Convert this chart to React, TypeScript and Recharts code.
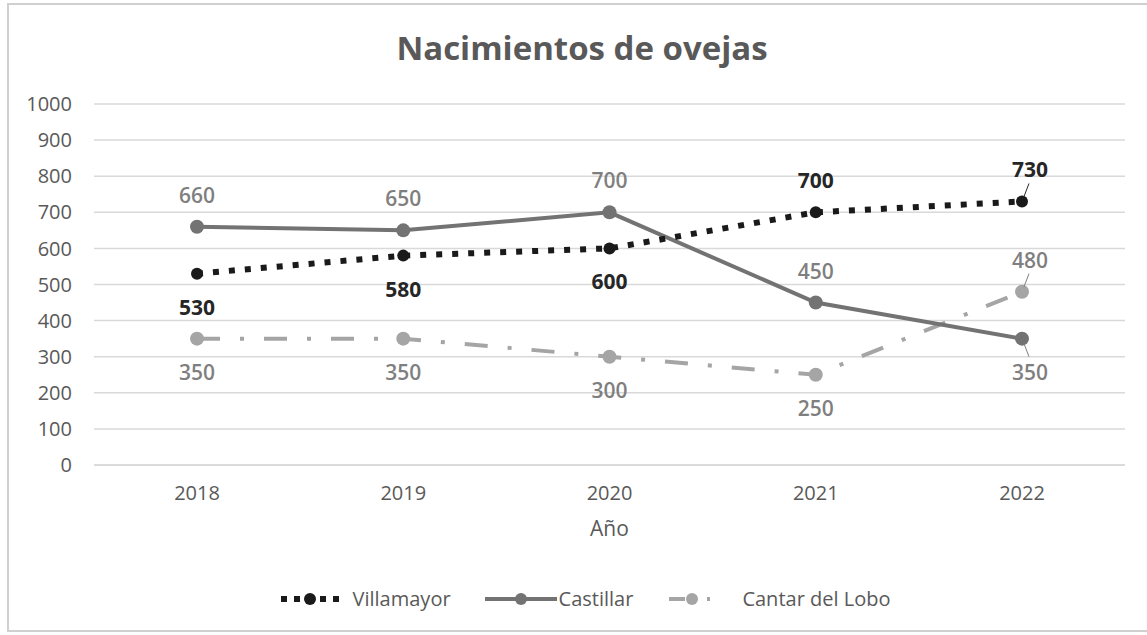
import { LineChart, Line, XAxis, YAxis, CartesianGrid, Legend, LabelList } from 'recharts';

const years = ['2018', '2019', '2020', '2021', '2022'];
const villamayor = [530, 580, 600, 700, 730];
const castillar = [660, 650, 700, 450, 350];
const cantarDelLobo = [350, 350, 300, 250, 480];
const yTicks = [0, 100, 200, 300, 400, 500, 600, 700, 800, 900, 1000];

// where each value label sits relative to its point
const villamayorLabelSide = ['bottom', 'bottom', 'bottom', 'top', 'top'];
const castillarLabelSide = ['top', 'top', 'top', 'top', 'bottom'];
const cantarLabelSide = ['bottom', 'bottom', 'bottom', 'bottom', 'top'];

const FONT = '"Open Sans", sans-serif';
const TEXT_GRAY = '#595959';

const chartData = years.map((year, i) => ({
  year,
  villamayor: villamayor[i],
  castillar: castillar[i],
  cantar: cantarDelLobo[i],
}));

const makeLabel = (sides: string[], color: string, weight: number) => (props: any) => {
  const { x, y, value, index } = props;
  const above = sides[index] === 'top';
  const last = index === sides.length - 1;
  const lx = last ? x + 8 : x;
  const ly = above ? y - 32 : y + 33;
  return (
    <g>
      {last && (
        <line
          x1={x + 2}
          y1={above ? y - 5 : y + 5}
          x2={x + 7}
          y2={above ? y - 18 : y + 18}
          stroke={color}
          strokeWidth={1}
        />
      )}
      <text
        x={lx}
        y={ly}
        textAnchor="middle"
        dominantBaseline="central"
        fill={color}
        fontSize={21}
        fontWeight={weight}
        fontFamily={FONT}
      >
        {value}
      </text>
    </g>
  );
};

const legendItems = [
  { name: 'Villamayor', kind: 'dotted', color: '#1a1a1a', icon: 60, gap: 13 },
  { name: 'Castillar', kind: 'solid', color: '#737373', icon: 72, gap: 2 },
  { name: 'Cantar del Lobo', kind: 'dashdot', color: '#a5a5a5', icon: 50, gap: 25 },
];

const LegendContent = () => (
  <div style={{ display: 'flex', justifyContent: 'center', alignItems: 'center', gap: 34, fontFamily: FONT }}>
    {legendItems.map(item => (
      <div key={item.name} style={{ display: 'flex', alignItems: 'center', gap: item.gap }}>
        <svg width={item.icon} height={16}>
          {item.kind === 'dotted' && (
            <line x1={1} y1={8} x2={item.icon} y2={8} stroke={item.color} strokeWidth={6} strokeDasharray="6 7" />
          )}
          {item.kind === 'solid' && (
            <line x1={0} y1={8} x2={item.icon} y2={8} stroke={item.color} strokeWidth={4} />
          )}
          {item.kind === 'dashdot' && (
            <line x1={2} y1={8} x2={item.icon} y2={8} stroke={item.color} strokeWidth={4} strokeDasharray="16 22 3 20" />
          )}
          <circle cx={item.icon / 2} cy={8} r={6} fill={item.color} />
        </svg>
        <span style={{ fontSize: 20, color: TEXT_GRAY }}>{item.name}</span>
      </div>
    ))}
  </div>
);

export default function App() {
  return (
    <div style={{ position: 'fixed', left: 0, top: 0, width: 1147, height: 635, background: '#fff', overflow: 'hidden' }}>
      <div
        style={{
          position: 'absolute',
          left: 7,
          top: 3,
          width: 1160,
          height: 629,
          border: '2px solid #d0d0d0',
          boxSizing: 'border-box',
        }}
      />
      <div
        style={{
          position: 'absolute',
          top: 25,
          width: 1164,
          textAlign: 'center',
          fontFamily: FONT,
          fontWeight: 700,
          fontSize: 33,
          color: TEXT_GRAY,
        }}
      >
        Nacimientos de ovejas
      </div>
      <div style={{ position: 'absolute', left: 0, top: 0 }}>
        <LineChart width={1147} height={635} data={chartData} margin={{ top: 104, right: 22, left: 0, bottom: 90 }}>
          <CartesianGrid vertical={false} stroke="#d9d9d9" strokeWidth={1.5} />
          <XAxis
            dataKey="year"
            height={80}
            padding={{ left: 103, right: 103 }}
            axisLine={{ stroke: '#d9d9d9', strokeWidth: 1.5 }}
            tickLine={false}
            tickMargin={15}
            tick={{ fill: TEXT_GRAY, fontSize: 20, fontFamily: FONT }}
            label={{ value: 'Año', position: 'insideTop', offset: 56, fill: TEXT_GRAY, fontSize: 21, fontFamily: FONT }}
          />
          <YAxis
            width={94}
            domain={[0, 1000]}
            ticks={yTicks}
            axisLine={false}
            tickLine={false}
            tickMargin={16}
            tick={{ fill: TEXT_GRAY, fontSize: 20, fontFamily: FONT }}
          />
          <Legend
            layout="horizontal"
            verticalAlign="middle"
            content={<LegendContent />}
            wrapperStyle={{ top: 585, left: 0, width: 1170 }}
          />
          <Line
            dataKey="cantar"
            name="Cantar del Lobo"
            stroke="#a5a5a5"
            strokeWidth={4}
            strokeDasharray="23 20 4 20"
            dot={{ r: 7, fill: '#a5a5a5', stroke: '#a5a5a5', strokeWidth: 0, strokeDasharray: '' }}
            isAnimationActive={false}
          >
            <LabelList dataKey="cantar" content={makeLabel(cantarLabelSide, '#7f7f7f', 600)} />
          </Line>
          <Line
            dataKey="castillar"
            name="Castillar"
            stroke="#737373"
            strokeWidth={4}
            dot={{ r: 7, fill: '#737373', stroke: '#737373', strokeWidth: 0 }}
            isAnimationActive={false}
          >
            <LabelList dataKey="castillar" content={makeLabel(castillarLabelSide, '#7f7f7f', 600)} />
          </Line>
          <Line
            dataKey="villamayor"
            name="Villamayor"
            stroke="#1a1a1a"
            strokeWidth={6}
            strokeDasharray="6 10"
            dot={{ r: 6, fill: '#1a1a1a', stroke: '#1a1a1a', strokeWidth: 0, strokeDasharray: '' }}
            isAnimationActive={false}
          >
            <LabelList dataKey="villamayor" content={makeLabel(villamayorLabelSide, '#262626', 700)} />
          </Line>
        </LineChart>
      </div>
    </div>
  );
}
